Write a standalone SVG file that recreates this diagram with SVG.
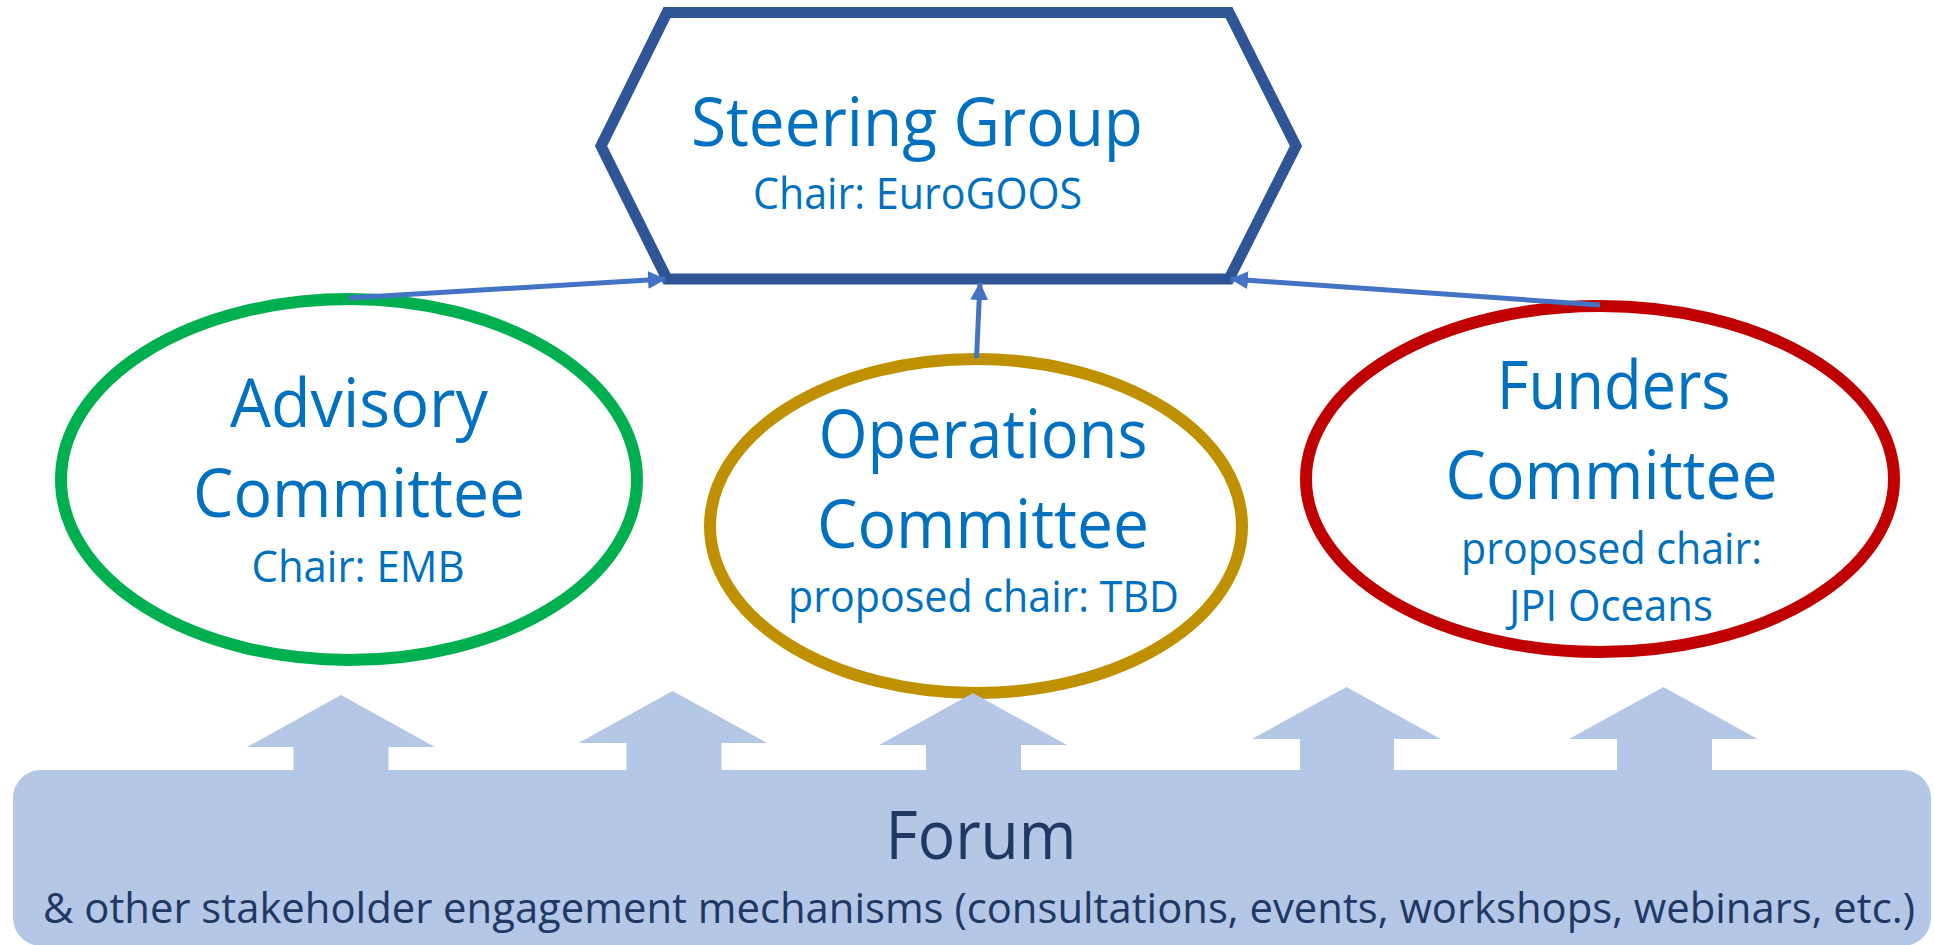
<svg xmlns="http://www.w3.org/2000/svg" width="1934" height="945" viewBox="0 0 1934 945">
  <defs>
    <style>
      .title { font-family: "Open Sans", "Noto Sans", sans-serif; font-size: 68px; fill: #0070C0; text-anchor: middle; }
      .sub { font-family: "Open Sans", "Noto Sans", sans-serif; font-size: 44px; fill: #0070C0; text-anchor: middle; }
      .forum-title { font-family: "Open Sans", "Noto Sans", sans-serif; font-size: 68px; fill: #203864; text-anchor: middle; }
      .forum-sub { font-family: "Open Sans", "Noto Sans", sans-serif; font-size: 42px; fill: #203864; text-anchor: middle; }
      .ring { fill: #FFFFFF; stroke-width: 12; }
      .link { fill: none; stroke: #4472C4; stroke-width: 5; }
      .forum-shape { fill: #B4C7E7; }
    </style>
    <marker id="arrowhead" markerUnits="userSpaceOnUse" markerWidth="18" markerHeight="18" viewBox="0 0 18 18" refX="17" refY="9" orient="auto">
      <path d="M0,0 L18,9 L0,18 Z" fill="#4472C4"/>
    </marker>
  </defs>

  <rect width="1934" height="945" fill="#FFFFFF"/>

  <!-- Steering Group hexagon -->
  <g id="node-steering">
    <polygon points="667,12.5 1229,12.5 1296,146 1229,279 667,279 601,146" fill="#FFFFFF" stroke="#2F5597" stroke-width="11" stroke-linejoin="miter"/>
    <text class="title" x="917" y="146" textLength="452" lengthAdjust="spacingAndGlyphs">Steering Group</text>
    <text class="sub" x="917.5" y="209" textLength="329" lengthAdjust="spacingAndGlyphs">Chair: EuroGOOS</text>
  </g>

  <!-- Advisory Committee -->
  <g id="node-advisory">
    <ellipse class="ring" cx="349" cy="479.5" rx="288" ry="180.5" stroke="#00B050"/>
    <text class="title" x="359" y="427" textLength="258" lengthAdjust="spacingAndGlyphs">Advisory</text>
    <text class="title" x="359" y="517" textLength="332" lengthAdjust="spacingAndGlyphs">Committee</text>
    <text class="sub" x="358" y="582" textLength="213" lengthAdjust="spacingAndGlyphs">Chair: EMB</text>
  </g>

  <!-- Operations Committee -->
  <g id="node-operations">
    <ellipse class="ring" cx="976" cy="526" rx="266" ry="167" stroke="#BF9000"/>
    <text class="title" x="983" y="458" textLength="329" lengthAdjust="spacingAndGlyphs">Operations</text>
    <text class="title" x="983" y="548" textLength="332" lengthAdjust="spacingAndGlyphs">Committee</text>
    <text class="sub" x="983.5" y="612" textLength="391" lengthAdjust="spacingAndGlyphs">proposed chair: TBD</text>
  </g>

  <!-- Funders Committee -->
  <g id="node-funders">
    <ellipse class="ring" cx="1600" cy="479" rx="294" ry="173" stroke="#C00000"/>
    <text class="title" x="1613.7" y="409" textLength="234" lengthAdjust="spacingAndGlyphs">Funders</text>
    <text class="title" x="1611.5" y="499" textLength="332" lengthAdjust="spacingAndGlyphs">Committee</text>
    <text class="sub" x="1611.6" y="564" textLength="301" lengthAdjust="spacingAndGlyphs">proposed chair:</text>
    <text class="sub" x="1611" y="621" textLength="204" lengthAdjust="spacingAndGlyphs">JPI Oceans</text>
  </g>

  <!-- Committees reporting up to the Steering Group -->
  <g id="connectors">
    <line class="link" x1="349" y1="298" x2="665" y2="279" marker-end="url(#arrowhead)"/>
    <line class="link" x1="976.5" y1="358" x2="980" y2="283" marker-end="url(#arrowhead)"/>
    <line class="link" x1="1600" y1="305" x2="1231" y2="279" marker-end="url(#arrowhead)"/>
  </g>

  <!-- Forum base with upward block arrows -->
  <g id="node-forum">
    <rect class="forum-shape" x="13" y="770" width="1918" height="176" rx="28" ry="28"/>
    <polygon class="forum-shape" points="341,695 435,747 388.5,747 388.5,772 293.5,772 293.5,747 247,747"/>
    <polygon class="forum-shape" points="672.5,691 767,743 721.5,743 721.5,772 626.5,772 626.5,743 578.5,743"/>
    <polygon class="forum-shape" points="973,693 1067,745 1021,745 1021,772 926,772 926,745 879,745"/>
    <polygon class="forum-shape" points="1346.5,687 1440.5,739 1394,739 1394,772 1300,772 1300,739 1252,739"/>
    <polygon class="forum-shape" points="1663.5,687 1757.5,739 1712,739 1712,772 1617,772 1617,739 1569,739"/>
    <text class="forum-title" x="981" y="859" textLength="191" lengthAdjust="spacingAndGlyphs">Forum</text>
    <text class="forum-sub" x="979" y="923" textLength="1872" lengthAdjust="spacingAndGlyphs">&amp; other stakeholder engagement mechanisms (consultations, events, workshops, webinars, etc.)</text>
  </g>
</svg>
